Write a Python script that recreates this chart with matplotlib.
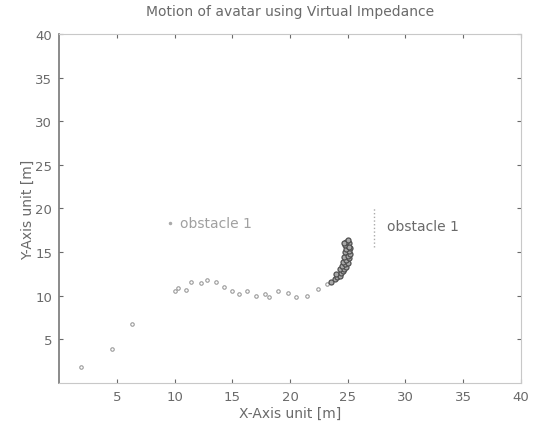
import matplotlib
matplotlib.use("Agg")
import matplotlib.pyplot as plt

# ---- data ----
title = "Motion of avatar using Virtual Impedance"
xlabel = "X-Axis unit [m]"
ylabel = "Y-Axis unit [m]"
xticks = [5, 10, 15, 20, 25, 30, 35, 40]
yticks = [5, 10, 15, 20, 25, 30, 35, 40]

# approach path of the agent
path_x = [1.9, 4.6, 6.3, 10.0, 10.3, 11.0, 11.4, 12.3, 12.8, 13.6, 14.3, 15.0,
          15.6, 16.3, 17.1, 17.8, 18.2, 19.0, 19.8, 20.5, 21.5, 22.4, 23.2]
path_y = [1.8, 3.9, 6.7, 10.5, 10.9, 10.7, 11.6, 11.4, 11.8, 11.6, 11.0, 10.5,
          10.2, 10.5, 10.0, 10.2, 9.8, 10.5, 10.3, 9.9, 10.0, 10.8, 11.3]

# dense oscillating cluster near obstacle 1
cluster_x = [23.6, 23.9, 24.1, 24.3, 24.0, 24.4, 24.6, 24.3, 24.7, 24.9, 24.5,
             24.8, 25.0, 24.6, 24.9, 25.1, 24.7, 25.0, 25.2, 24.8, 25.1, 24.9,
             25.2, 25.0, 24.8, 25.1, 24.9, 25.0, 24.7, 25.1]
cluster_y = [11.6, 11.9, 12.1, 12.3, 12.5, 12.6, 12.8, 13.0, 13.1, 13.3, 13.4,
             13.6, 13.8, 13.9, 14.1, 14.3, 14.4, 14.6, 14.8, 15.0, 15.1, 15.3,
             15.5, 15.7, 15.8, 16.0, 16.2, 16.4, 16.0, 15.6]

obstacle_labels = ["obstacle 1", "obstacle 1"]
obstacle_x = [9.6, 28.4]
obstacle_y = [18.3, 18.0]

fig = plt.figure(figsize=(5.33, 4.27), dpi=100)
ax = fig.add_axes([0.111, 0.101, 0.866, 0.817])

txtc = "#6a6a6a"
ax.plot(path_x, path_y, linestyle="none", marker="o", ms=2.5, mfc="none",
        mec="#9a9a9a", mew=0.8)
ax.plot(cluster_x, cluster_y, linestyle="none", marker="o", ms=3.6, mfc="#a8a8a8",
        mec="#505050", mew=0.9)

# obstacles: point markers with labels
ax.plot([obstacle_x[0]], [obstacle_y[0]], linestyle="none", marker=".", ms=3, color="#aaaaaa")
ax.plot([27.3, 27.3], [15.6, 20.2], linestyle=":", color="#aaaaaa", lw=1)
for lab, x, y in zip(obstacle_labels, obstacle_x, obstacle_y):
    ax.text(x + (0.9 if x < 20 else 0.0), y, lab, fontsize=10,
            color=txtc if x > 20 else "#a0a0a0", va="center", ha="left")

ax.set_xlim(0, 40)
ax.set_ylim(0, 40)
ax.set_xticks(xticks)
ax.set_yticks(yticks)
ax.tick_params(direction="in", length=3, labelsize=9.5, colors=txtc,
               top=True, right=True, pad=5)
for side in ["top", "bottom", "right"]:
    ax.spines[side].set_color("#c8c8c8")
    ax.spines[side].set_linewidth(0.8)
ax.spines["left"].set_color("#777777")
ax.spines["left"].set_linewidth(1.2)

ax.set_title(title, fontsize=10, color=txtc, pad=14)
ax.set_xlabel(xlabel, fontsize=10, color=txtc, labelpad=2)
ax.set_ylabel(ylabel, fontsize=10, color=txtc, labelpad=0)

fig.savefig("out.png", dpi=100)
